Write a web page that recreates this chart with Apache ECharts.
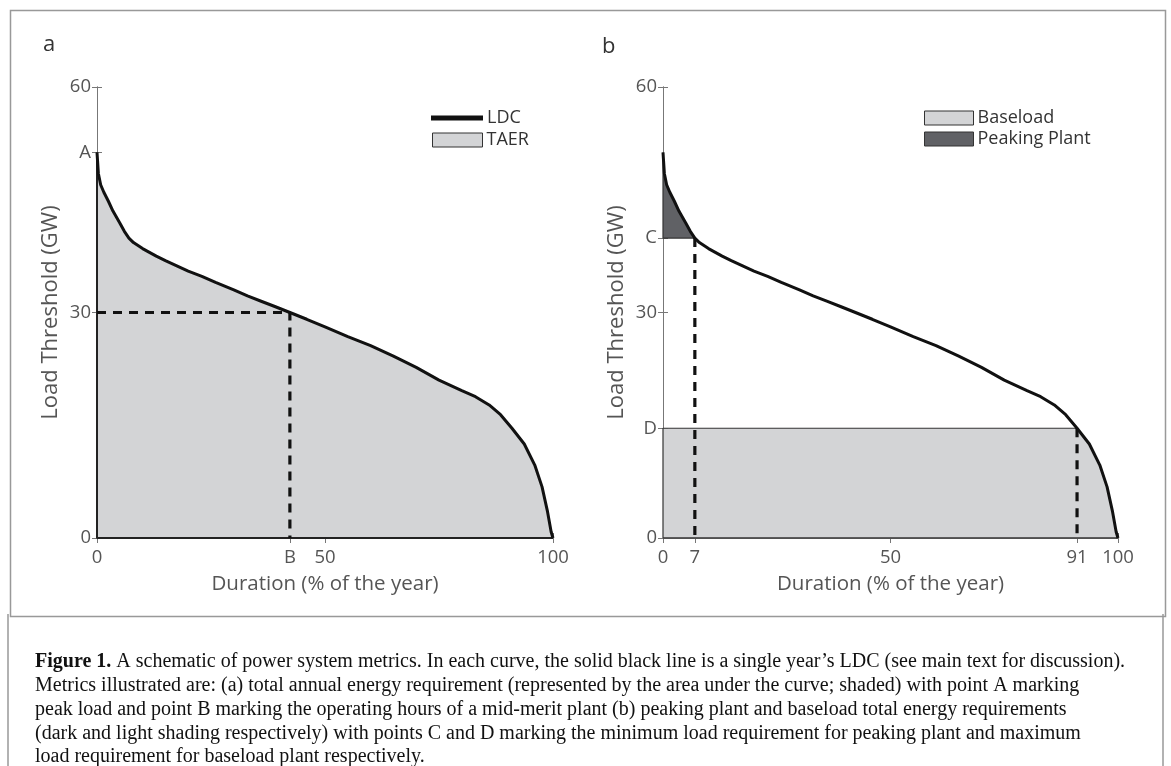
<!DOCTYPE html>
<html>
<head>
<meta charset="utf-8">
<script src="https://cdn.jsdelivr.net/npm/echarts@6/dist/echarts.min.js"></script>
<style>
html,body{margin:0;padding:0;background:#fff;}
#chart{width:1171px;height:766px;}
</style>
</head>
<body>
<div id="chart"></div>
<script>
// ---- data ----
const ldc = [[0,51.3],[0.3,48.5],[0.8,47.0],[1.5,46.0],[2.5,44.8],[3.5,43.5],[5,41.9],[6,40.8],[7,39.9],[8,39.3],[9,38.9],[10,38.5],[11.5,38.0],[13,37.5],[15,36.9],[17.5,36.2],[20,35.5],[23,34.8],[26,34.0],[30,33.0],[33,32.2],[36,31.5],[39,30.8],[42.3,30.0],[46,29.1],[50,28.1],[55,26.8],[60,25.6],[65,24.2],[70,22.7],[75,21.0],[80,19.6],[83,18.8],[86,17.7],[88.5,16.4],[91,14.6],[93.7,12.5],[96,9.7],[97.6,6.8],[98.8,3.5],[99.6,0.8],[100,0]];
const peakA = 51.3;      // A
const midMerit = 42.3;   // B
const midLoad = 30;
const peakC = 39.9;      // C
const baseD = 14.6;      // D
const peakDur = 7;
const baseDur = 91;
const xTicksA = [0, midMerit, 50, 100];
const xLabelsA = ['0', 'B', '50', '100'];
const yTicksA = [0, 30, peakA, 60];
const yLabelsA = ['0', '30', 'A', '60'];
const xTicksB = [0, peakDur, 50, baseDur, 100];
const xLabelsB = ['0', '7', '50', '91', '100'];
const yTicksB = [0, baseD, 30, peakC, 60];
const yLabelsB = ['0', 'D', '30', 'C', '60'];
const captionLines = [
  "{b|Figure 1.} A schematic of power system metrics. In each curve, the solid black line is a single year\u2019s LDC (see main text for discussion).",
  "Metrics illustrated are: (a) total annual energy requirement (represented by the area under the curve; shaded) with point A marking",
  "peak load and point B marking the operating hours of a mid-merit plant (b) peaking plant and baseload total energy requirements",
  "(dark and light shading respectively) with points C and D marking the minimum load requirement for peaking plant and maximum",
  "load requirement for baseload plant respectively."
];

// ---- derived polygons ----
const baseloadPoly = [[0, baseD]].concat(ldc.filter(p => p[0] >= baseDur));
const peakingPoly = ldc.filter(p => p[0] <= peakDur);

const FONT = 'Open Sans';
const LABEL_COLOR = '#555';
const AXIS_COLOR = '#777';
const LIGHT = '#d3d4d6';
const DARK = '#606165';

function fmt(ticks, labels){ return v => { const i = ticks.indexOf(v); return i >= 0 ? labels[i] : ''; }; }

function xAxes(gi, ticks, labels){
  return [{
    type:'value', gridIndex:gi, min:0, max:100, position:'bottom',
    name:'Duration (% of the year)', nameLocation:'middle', nameGap:36,
    nameTextStyle:{fontFamily:FONT, fontSize:20.5, color:LABEL_COLOR},
    axisLine:{show:true, lineStyle:{color:AXIS_COLOR, width:1}},
    axisTick:{show:true, inside:true, length:5, customValues:ticks, lineStyle:{color:AXIS_COLOR}},
    axisLabel:{customValues:ticks, formatter:fmt(ticks, labels), fontFamily:FONT, fontSize:18.5, color:LABEL_COLOR, margin:10},
    splitLine:{show:false}
  },{
    type:'value', gridIndex:gi, min:0, max:100, position:'top',
    axisLine:{show:true, lineStyle:{color:AXIS_COLOR, width:1}},
    axisTick:{show:true, inside:true, length:5, customValues:ticks, lineStyle:{color:AXIS_COLOR}},
    axisLabel:{show:false, customValues:ticks}, splitLine:{show:false}
  }];
}
function yAxes(gi, ticks, labels){
  return [{
    type:'value', gridIndex:gi, min:0, max:60, position:'left',
    name:'Load Threshold (GW)', nameLocation:'middle', nameGap:35,
    nameTextStyle:{fontFamily:FONT, fontSize:22, color:LABEL_COLOR},
    axisLine:{show:true, lineStyle:{color:AXIS_COLOR, width:1}},
    axisTick:{show:true, inside:true, length:5, customValues:ticks, lineStyle:{color:AXIS_COLOR}},
    axisLabel:{customValues:ticks, formatter:fmt(ticks, labels), fontFamily:FONT, fontSize:18.5, color:LABEL_COLOR, margin:6},
    splitLine:{show:false}
  },{
    type:'value', gridIndex:gi, min:0, max:60, position:'right',
    axisLine:{show:true, lineStyle:{color:AXIS_COLOR, width:1}},
    axisTick:{show:true, inside:true, length:5, customValues:ticks, lineStyle:{color:AXIS_COLOR}},
    axisLabel:{show:false, customValues:ticks}, splitLine:{show:false}
  }];
}

const dash = {color:'#111', width:3.2, type:[9,7]};
const legendText = {fontFamily:FONT, fontSize:18, color:'#333', padding:[0,0,0,-1]};

const option = {
  animation:false,
  backgroundColor:'#fff',
  title:[
    {text:'a', left:38, top:29, textStyle:{fontFamily:FONT, fontSize:22, fontWeight:'normal', color:'#333'}},
    {text:'b', left:597, top:31, textStyle:{fontFamily:FONT, fontSize:22, fontWeight:'normal', color:'#333'}}
  ],
  grid:[
    {left:97, top:87, width:456, height:451},
    {left:663, top:87, width:455, height:451}
  ],
  xAxis:[].concat(xAxes(0, xTicksA, xLabelsA), xAxes(1, xTicksB, xLabelsB)),
  yAxis:[].concat(yAxes(0, yTicksA, yLabelsA), yAxes(1, yTicksB, yLabelsB)),
  legend:[
    {left:431, top:109, padding:0, itemWidth:52, itemHeight:5, selectedMode:false,
     textStyle:legendText,
     data:[{name:'LDC', icon:'rect', itemStyle:{color:'#111', borderWidth:0}}]},
    {left:432, top:131, padding:0, itemWidth:50, itemHeight:14, selectedMode:false,
     textStyle:legendText,
     data:[{name:'TAER', icon:'rect', itemStyle:{color:LIGHT, borderColor:'#333', borderWidth:1}}]},
    {left:924, top:109, padding:0, itemWidth:49, itemHeight:14, selectedMode:false,
     textStyle:legendText,
     data:[{name:'Baseload', icon:'rect', itemStyle:{color:LIGHT, borderColor:'#333', borderWidth:1}}]},
    {left:924, top:130, padding:0, itemWidth:49, itemHeight:14, selectedMode:false,
     textStyle:legendText,
     data:[{name:'Peaking Plant', icon:'rect', itemStyle:{color:DARK, borderColor:'#333', borderWidth:1}}]}
  ],
  series:[
    // panel a
    {name:'TAER', type:'line', xAxisIndex:0, yAxisIndex:0, data:ldc, symbol:'none', silent:true,
     lineStyle:{width:0}, itemStyle:{color:LIGHT}, areaStyle:{color:LIGHT, opacity:1}, z:1},
    {name:'edgeA', type:'line', xAxisIndex:0, yAxisIndex:0, data:[[0,peakA],[0,0],[100,0]], symbol:'none', silent:true,
     lineStyle:{color:'#222', width:2}, z:2},
    {name:'dashA', type:'line', xAxisIndex:0, yAxisIndex:0, data:[[0,midLoad],[midMerit,midLoad],[midMerit,0]], symbol:'none', silent:true,
     lineStyle:dash, z:3},
    {name:'LDC', type:'line', xAxisIndex:0, yAxisIndex:0, data:ldc, symbol:'none', silent:true,
     lineStyle:{color:'#111', width:3}, itemStyle:{color:'#111'}, z:4},
    // panel b
    {name:'Baseload', type:'line', xAxisIndex:2, yAxisIndex:2, data:baseloadPoly, symbol:'none', silent:true,
     lineStyle:{width:0}, itemStyle:{color:LIGHT}, areaStyle:{color:LIGHT, opacity:1}, z:1},
    {name:'Peaking Plant', type:'line', xAxisIndex:2, yAxisIndex:2, data:peakingPoly, symbol:'none', silent:true,
     lineStyle:{width:0}, itemStyle:{color:DARK}, areaStyle:{color:DARK, opacity:1, origin:peakC}, z:1},
    {name:'edgeBase', type:'line', xAxisIndex:2, yAxisIndex:2, data:[[0,0],[0,baseD],[baseDur,baseD]], symbol:'none', silent:true,
     lineStyle:{color:'#333', width:1.2}, z:2},
    {name:'edgePeak', type:'line', xAxisIndex:2, yAxisIndex:2, data:[[0,peakA],[0,peakC],[peakDur,peakC]], symbol:'none', silent:true,
     lineStyle:{color:'#333', width:1.2}, z:2},
    {name:'edgeBottom', type:'line', xAxisIndex:2, yAxisIndex:2, data:[[0,0],[100,0]], symbol:'none', silent:true,
     lineStyle:{color:'#333', width:1.5}, z:2},
    {name:'dashC', type:'line', xAxisIndex:2, yAxisIndex:2, data:[[peakDur,peakC],[peakDur,0]], symbol:'none', silent:true,
     lineStyle:dash, z:3},
    {name:'dashD', type:'line', xAxisIndex:2, yAxisIndex:2, data:[[baseDur,baseD],[baseDur,0]], symbol:'none', silent:true,
     lineStyle:dash, z:3},
    {name:'LDC b', type:'line', xAxisIndex:2, yAxisIndex:2, data:ldc, symbol:'none', silent:true,
     lineStyle:{color:'#111', width:3}, z:4}
  ],
  graphic:[
    {type:'rect', left:8, top:8, shape:{width:1155, height:606}, style:{fill:null, stroke:'#999', lineWidth:1.5}, silent:true},
    {type:'polyline', shape:{points:[[8,614],[8,766]]}, style:{stroke:'#999', lineWidth:1.5}, silent:true},
    {type:'polyline', shape:{points:[[1163,614],[1163,766]]}, style:{stroke:'#999', lineWidth:1.5}, silent:true}
  ].concat(captionLines.map((t, i) => ({
    type:'text', left:35, top:652 + i*23.8, silent:true,
    style:{text:t, fontFamily:'Liberation Serif', fontSize:20, fill:'#111',
      rich:{b:{fontFamily:'Liberation Serif', fontSize:20, fontWeight:'bold', fill:'#111'}}}
  })))
};

const chart = echarts.init(document.getElementById('chart'), null, {renderer:'canvas'});
chart.setOption(option);
</script>
</body>
</html>
